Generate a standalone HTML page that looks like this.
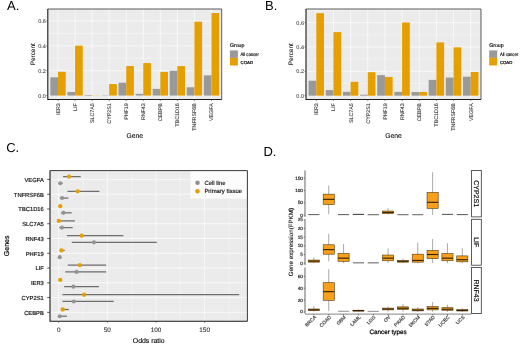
<!DOCTYPE html><html><head><meta charset="utf-8"><style>html,body{margin:0;padding:0;background:#fff;overflow:hidden}svg{display:block;will-change:transform}</style></head><body>
<svg width="520" height="345" viewBox="0 0 520 345" font-family="'Liberation Sans', sans-serif" text-rendering="geometricPrecision">
<rect width="520" height="345" fill="#fff"/>
<rect x="47.8" y="9" width="173.9" height="90.5" fill="#EBEBEB"/>
<line x1="47.8" x2="221.7" y1="83.18" y2="83.18" stroke="#fff" stroke-width="0.35"/>
<line x1="47.8" x2="221.7" y1="58.34" y2="58.34" stroke="#fff" stroke-width="0.35"/>
<line x1="47.8" x2="221.7" y1="33.5" y2="33.5" stroke="#fff" stroke-width="0.35"/>
<line x1="47.8" x2="221.7" y1="95.6" y2="95.6" stroke="#fff" stroke-width="0.65"/>
<line x1="47.8" x2="221.7" y1="70.76" y2="70.76" stroke="#fff" stroke-width="0.65"/>
<line x1="47.8" x2="221.7" y1="45.92" y2="45.92" stroke="#fff" stroke-width="0.65"/>
<line x1="47.8" x2="221.7" y1="21.08" y2="21.08" stroke="#fff" stroke-width="0.65"/>
<line x1="58.03" x2="58.03" y1="9" y2="99.5" stroke="#fff" stroke-width="0.65"/>
<line x1="75.08" x2="75.08" y1="9" y2="99.5" stroke="#fff" stroke-width="0.65"/>
<line x1="92.13" x2="92.13" y1="9" y2="99.5" stroke="#fff" stroke-width="0.65"/>
<line x1="109.18" x2="109.18" y1="9" y2="99.5" stroke="#fff" stroke-width="0.65"/>
<line x1="126.23" x2="126.23" y1="9" y2="99.5" stroke="#fff" stroke-width="0.65"/>
<line x1="143.27" x2="143.27" y1="9" y2="99.5" stroke="#fff" stroke-width="0.65"/>
<line x1="160.32" x2="160.32" y1="9" y2="99.5" stroke="#fff" stroke-width="0.65"/>
<line x1="177.37" x2="177.37" y1="9" y2="99.5" stroke="#fff" stroke-width="0.65"/>
<line x1="194.42" x2="194.42" y1="9" y2="99.5" stroke="#fff" stroke-width="0.65"/>
<line x1="211.47" x2="211.47" y1="9" y2="99.5" stroke="#fff" stroke-width="0.65"/>
<rect x="50.36" y="77.34" width="7.67" height="18.26" fill="#999999"/>
<rect x="58.03" y="71.75" width="7.67" height="23.85" fill="#E69F00"/>
<rect x="67.41" y="92" width="7.67" height="3.6" fill="#999999"/>
<rect x="75.08" y="45.67" width="7.67" height="49.93" fill="#E69F00"/>
<rect x="84.46" y="94.98" width="7.67" height="0.62" fill="#999999"/>
<rect x="92.13" y="95.35" width="7.67" height="0.25" fill="#E69F00"/>
<rect x="101.5" y="95.23" width="7.67" height="0.37" fill="#999999"/>
<rect x="109.18" y="84.05" width="7.67" height="11.55" fill="#E69F00"/>
<rect x="118.55" y="82.68" width="7.67" height="12.92" fill="#999999"/>
<rect x="126.23" y="66.04" width="7.67" height="29.56" fill="#E69F00"/>
<rect x="135.6" y="93.86" width="7.67" height="1.74" fill="#999999"/>
<rect x="143.27" y="63.06" width="7.67" height="32.54" fill="#E69F00"/>
<rect x="152.65" y="88.89" width="7.67" height="6.71" fill="#999999"/>
<rect x="160.32" y="71.88" width="7.67" height="23.72" fill="#E69F00"/>
<rect x="169.7" y="70.76" width="7.67" height="24.84" fill="#999999"/>
<rect x="177.37" y="66.04" width="7.67" height="29.56" fill="#E69F00"/>
<rect x="186.75" y="87.28" width="7.67" height="8.32" fill="#999999"/>
<rect x="194.42" y="21.7" width="7.67" height="73.9" fill="#E69F00"/>
<rect x="203.8" y="75.36" width="7.67" height="20.24" fill="#999999"/>
<rect x="211.47" y="13.01" width="7.67" height="82.59" fill="#E69F00"/>
<path d="M47.8 9H221.7V99.5" fill="none" stroke="#5a5a5a" stroke-width="1"/>
<path d="M47.8 9V99.5H221.7" fill="none" stroke="#1a1a1a" stroke-width="1.1"/>
<line x1="46.4" x2="47.8" y1="95.6" y2="95.6" stroke="#333" stroke-width="0.6"/>
<text x="45.8" y="97.5" font-size="5.5" fill="#4D4D4D" text-anchor="end" stroke="#4D4D4D" stroke-width="0.1">0.0</text>
<line x1="46.4" x2="47.8" y1="70.76" y2="70.76" stroke="#333" stroke-width="0.6"/>
<text x="45.8" y="72.66" font-size="5.5" fill="#4D4D4D" text-anchor="end" stroke="#4D4D4D" stroke-width="0.1">0.2</text>
<line x1="46.4" x2="47.8" y1="45.92" y2="45.92" stroke="#333" stroke-width="0.6"/>
<text x="45.8" y="47.82" font-size="5.5" fill="#4D4D4D" text-anchor="end" stroke="#4D4D4D" stroke-width="0.1">0.4</text>
<line x1="46.4" x2="47.8" y1="21.08" y2="21.08" stroke="#333" stroke-width="0.6"/>
<text x="45.8" y="22.98" font-size="5.5" fill="#4D4D4D" text-anchor="end" stroke="#4D4D4D" stroke-width="0.1">0.6</text>
<line x1="58.03" x2="58.03" y1="99.5" y2="100.9" stroke="#333" stroke-width="0.6"/>
<text transform="translate(59.93,103.3) rotate(-90)" font-size="5.3" fill="#444" text-anchor="end" stroke="#444" stroke-width="0.13">IER3</text>
<line x1="75.08" x2="75.08" y1="99.5" y2="100.9" stroke="#333" stroke-width="0.6"/>
<text transform="translate(76.98,103.3) rotate(-90)" font-size="5.3" fill="#444" text-anchor="end" stroke="#444" stroke-width="0.13">LIF</text>
<line x1="92.13" x2="92.13" y1="99.5" y2="100.9" stroke="#333" stroke-width="0.6"/>
<text transform="translate(94.03,103.3) rotate(-90)" font-size="5.3" fill="#444" text-anchor="end" stroke="#444" stroke-width="0.13">SLC7A5</text>
<line x1="109.18" x2="109.18" y1="99.5" y2="100.9" stroke="#333" stroke-width="0.6"/>
<text transform="translate(111.08,103.3) rotate(-90)" font-size="5.3" fill="#444" text-anchor="end" stroke="#444" stroke-width="0.13">CYP2S1</text>
<line x1="126.23" x2="126.23" y1="99.5" y2="100.9" stroke="#333" stroke-width="0.6"/>
<text transform="translate(128.13,103.3) rotate(-90)" font-size="5.3" fill="#444" text-anchor="end" stroke="#444" stroke-width="0.13">PHF19</text>
<line x1="143.27" x2="143.27" y1="99.5" y2="100.9" stroke="#333" stroke-width="0.6"/>
<text transform="translate(145.17,103.3) rotate(-90)" font-size="5.3" fill="#444" text-anchor="end" stroke="#444" stroke-width="0.13">RNF43</text>
<line x1="160.32" x2="160.32" y1="99.5" y2="100.9" stroke="#333" stroke-width="0.6"/>
<text transform="translate(162.22,103.3) rotate(-90)" font-size="5.3" fill="#444" text-anchor="end" stroke="#444" stroke-width="0.13">CEBPB</text>
<line x1="177.37" x2="177.37" y1="99.5" y2="100.9" stroke="#333" stroke-width="0.6"/>
<text transform="translate(179.27,103.3) rotate(-90)" font-size="5.3" fill="#444" text-anchor="end" stroke="#444" stroke-width="0.13">TBC1D16</text>
<line x1="194.42" x2="194.42" y1="99.5" y2="100.9" stroke="#333" stroke-width="0.6"/>
<text transform="translate(196.32,103.3) rotate(-90)" font-size="5.3" fill="#444" text-anchor="end" stroke="#444" stroke-width="0.13">TNFRSF6B</text>
<line x1="211.47" x2="211.47" y1="99.5" y2="100.9" stroke="#333" stroke-width="0.6"/>
<text transform="translate(213.37,103.3) rotate(-90)" font-size="5.3" fill="#444" text-anchor="end" stroke="#444" stroke-width="0.13">VEGFA</text>
<text x="134.75" y="138.4" font-size="6.8" fill="#000" text-anchor="middle" stroke="#000" stroke-width="0.08">Gene</text>
<text transform="translate(34.8,54.25) rotate(-90)" font-size="6.4" fill="#000" text-anchor="middle" stroke="#000" stroke-width="0.08">Percent</text>
<text x="229.9" y="47.1" font-size="5.2" fill="#000" stroke="#000" stroke-width="0.15">Group</text>
<rect x="229.9" y="50.4" width="8" height="7.5" fill="#999999"/>
<rect x="229.9" y="57.9" width="8" height="7.6" fill="#E69F00"/>
<text x="240.6" y="55.8" font-size="4.8" fill="#000" textLength="18.2" lengthAdjust="spacingAndGlyphs" stroke="#000" stroke-width="0.16">All cancer</text>
<text x="240.6" y="63.5" font-size="4.3" fill="#000" stroke="#000" stroke-width="0.2">COAD</text>
<text x="7" y="9.9" font-size="13" fill="#000">A.</text>
<rect x="306" y="9" width="175" height="90.5" fill="#EBEBEB"/>
<line x1="306" x2="481" y1="83.52" y2="83.52" stroke="#fff" stroke-width="0.35"/>
<line x1="306" x2="481" y1="59.16" y2="59.16" stroke="#fff" stroke-width="0.35"/>
<line x1="306" x2="481" y1="34.8" y2="34.8" stroke="#fff" stroke-width="0.35"/>
<line x1="306" x2="481" y1="10.44" y2="10.44" stroke="#fff" stroke-width="0.35"/>
<line x1="306" x2="481" y1="95.7" y2="95.7" stroke="#fff" stroke-width="0.65"/>
<line x1="306" x2="481" y1="71.34" y2="71.34" stroke="#fff" stroke-width="0.65"/>
<line x1="306" x2="481" y1="46.98" y2="46.98" stroke="#fff" stroke-width="0.65"/>
<line x1="306" x2="481" y1="22.62" y2="22.62" stroke="#fff" stroke-width="0.65"/>
<line x1="316.29" x2="316.29" y1="9" y2="99.5" stroke="#fff" stroke-width="0.65"/>
<line x1="333.45" x2="333.45" y1="9" y2="99.5" stroke="#fff" stroke-width="0.65"/>
<line x1="350.61" x2="350.61" y1="9" y2="99.5" stroke="#fff" stroke-width="0.65"/>
<line x1="367.76" x2="367.76" y1="9" y2="99.5" stroke="#fff" stroke-width="0.65"/>
<line x1="384.92" x2="384.92" y1="9" y2="99.5" stroke="#fff" stroke-width="0.65"/>
<line x1="402.08" x2="402.08" y1="9" y2="99.5" stroke="#fff" stroke-width="0.65"/>
<line x1="419.24" x2="419.24" y1="9" y2="99.5" stroke="#fff" stroke-width="0.65"/>
<line x1="436.39" x2="436.39" y1="9" y2="99.5" stroke="#fff" stroke-width="0.65"/>
<line x1="453.55" x2="453.55" y1="9" y2="99.5" stroke="#fff" stroke-width="0.65"/>
<line x1="470.71" x2="470.71" y1="9" y2="99.5" stroke="#fff" stroke-width="0.65"/>
<rect x="308.57" y="80.72" width="7.72" height="14.98" fill="#999999"/>
<rect x="316.29" y="13.12" width="7.72" height="82.58" fill="#E69F00"/>
<rect x="325.73" y="90.1" width="7.72" height="5.6" fill="#999999"/>
<rect x="333.45" y="32.12" width="7.72" height="63.58" fill="#E69F00"/>
<rect x="342.89" y="91.8" width="7.72" height="3.9" fill="#999999"/>
<rect x="350.61" y="81.81" width="7.72" height="13.89" fill="#E69F00"/>
<rect x="360.04" y="94.73" width="7.72" height="0.97" fill="#999999"/>
<rect x="367.76" y="72.19" width="7.72" height="23.51" fill="#E69F00"/>
<rect x="377.2" y="75.12" width="7.72" height="20.58" fill="#999999"/>
<rect x="384.92" y="76.94" width="7.72" height="18.76" fill="#E69F00"/>
<rect x="394.36" y="91.92" width="7.72" height="3.78" fill="#999999"/>
<rect x="402.08" y="22.5" width="7.72" height="73.2" fill="#E69F00"/>
<rect x="411.51" y="92.05" width="7.72" height="3.65" fill="#999999"/>
<rect x="419.24" y="91.92" width="7.72" height="3.78" fill="#E69F00"/>
<rect x="428.67" y="79.87" width="7.72" height="15.83" fill="#999999"/>
<rect x="436.39" y="42.35" width="7.72" height="53.35" fill="#E69F00"/>
<rect x="445.83" y="77.55" width="7.72" height="18.15" fill="#999999"/>
<rect x="453.55" y="47.35" width="7.72" height="48.35" fill="#E69F00"/>
<rect x="462.99" y="76.7" width="7.72" height="19" fill="#999999"/>
<rect x="470.71" y="71.95" width="7.72" height="23.75" fill="#E69F00"/>
<path d="M306 9H481V99.5" fill="none" stroke="#5a5a5a" stroke-width="1"/>
<path d="M306 9V99.5H481" fill="none" stroke="#1a1a1a" stroke-width="1.1"/>
<line x1="304.6" x2="306" y1="95.7" y2="95.7" stroke="#333" stroke-width="0.6"/>
<text x="304" y="97.6" font-size="5.5" fill="#4D4D4D" text-anchor="end" stroke="#4D4D4D" stroke-width="0.1">0.0</text>
<line x1="304.6" x2="306" y1="71.34" y2="71.34" stroke="#333" stroke-width="0.6"/>
<text x="304" y="73.24" font-size="5.5" fill="#4D4D4D" text-anchor="end" stroke="#4D4D4D" stroke-width="0.1">0.2</text>
<line x1="304.6" x2="306" y1="46.98" y2="46.98" stroke="#333" stroke-width="0.6"/>
<text x="304" y="48.88" font-size="5.5" fill="#4D4D4D" text-anchor="end" stroke="#4D4D4D" stroke-width="0.1">0.4</text>
<line x1="304.6" x2="306" y1="22.62" y2="22.62" stroke="#333" stroke-width="0.6"/>
<text x="304" y="24.52" font-size="5.5" fill="#4D4D4D" text-anchor="end" stroke="#4D4D4D" stroke-width="0.1">0.6</text>
<line x1="316.29" x2="316.29" y1="99.5" y2="100.9" stroke="#333" stroke-width="0.6"/>
<text transform="translate(318.19,103.3) rotate(-90)" font-size="5.3" fill="#444" text-anchor="end" stroke="#444" stroke-width="0.13">IER3</text>
<line x1="333.45" x2="333.45" y1="99.5" y2="100.9" stroke="#333" stroke-width="0.6"/>
<text transform="translate(335.35,103.3) rotate(-90)" font-size="5.3" fill="#444" text-anchor="end" stroke="#444" stroke-width="0.13">LIF</text>
<line x1="350.61" x2="350.61" y1="99.5" y2="100.9" stroke="#333" stroke-width="0.6"/>
<text transform="translate(352.51,103.3) rotate(-90)" font-size="5.3" fill="#444" text-anchor="end" stroke="#444" stroke-width="0.13">SLC7A5</text>
<line x1="367.76" x2="367.76" y1="99.5" y2="100.9" stroke="#333" stroke-width="0.6"/>
<text transform="translate(369.66,103.3) rotate(-90)" font-size="5.3" fill="#444" text-anchor="end" stroke="#444" stroke-width="0.13">CYP2S1</text>
<line x1="384.92" x2="384.92" y1="99.5" y2="100.9" stroke="#333" stroke-width="0.6"/>
<text transform="translate(386.82,103.3) rotate(-90)" font-size="5.3" fill="#444" text-anchor="end" stroke="#444" stroke-width="0.13">PHF19</text>
<line x1="402.08" x2="402.08" y1="99.5" y2="100.9" stroke="#333" stroke-width="0.6"/>
<text transform="translate(403.98,103.3) rotate(-90)" font-size="5.3" fill="#444" text-anchor="end" stroke="#444" stroke-width="0.13">RNF43</text>
<line x1="419.24" x2="419.24" y1="99.5" y2="100.9" stroke="#333" stroke-width="0.6"/>
<text transform="translate(421.14,103.3) rotate(-90)" font-size="5.3" fill="#444" text-anchor="end" stroke="#444" stroke-width="0.13">CEBPB</text>
<line x1="436.39" x2="436.39" y1="99.5" y2="100.9" stroke="#333" stroke-width="0.6"/>
<text transform="translate(438.29,103.3) rotate(-90)" font-size="5.3" fill="#444" text-anchor="end" stroke="#444" stroke-width="0.13">TBC1D16</text>
<line x1="453.55" x2="453.55" y1="99.5" y2="100.9" stroke="#333" stroke-width="0.6"/>
<text transform="translate(455.45,103.3) rotate(-90)" font-size="5.3" fill="#444" text-anchor="end" stroke="#444" stroke-width="0.13">TNFRSF6B</text>
<line x1="470.71" x2="470.71" y1="99.5" y2="100.9" stroke="#333" stroke-width="0.6"/>
<text transform="translate(472.61,103.3) rotate(-90)" font-size="5.3" fill="#444" text-anchor="end" stroke="#444" stroke-width="0.13">VEGFA</text>
<text x="393.5" y="138.4" font-size="6.8" fill="#000" text-anchor="middle" stroke="#000" stroke-width="0.08">Gene</text>
<text transform="translate(293,54.25) rotate(-90)" font-size="6.4" fill="#000" text-anchor="middle" stroke="#000" stroke-width="0.08">Percent</text>
<text x="489.2" y="47.1" font-size="5.2" fill="#000" stroke="#000" stroke-width="0.15">Group</text>
<rect x="489.2" y="50.4" width="8" height="7.5" fill="#999999"/>
<rect x="489.2" y="57.9" width="8" height="7.6" fill="#E69F00"/>
<text x="499.9" y="55.8" font-size="4.8" fill="#000" textLength="18.2" lengthAdjust="spacingAndGlyphs" stroke="#000" stroke-width="0.16">All cancer</text>
<text x="499.9" y="63.5" font-size="4.3" fill="#000" stroke="#000" stroke-width="0.2">COAD</text>
<text x="265" y="9.9" font-size="13" fill="#000">B.</text>
<rect x="50" y="170.6" width="197.4" height="150.6" fill="#EBEBEB"/>
<line x1="83.03" x2="83.03" y1="170.6" y2="321.2" stroke="#fff" stroke-width="0.35"/>
<line x1="131.68" x2="131.68" y1="170.6" y2="321.2" stroke="#fff" stroke-width="0.35"/>
<line x1="180.32" x2="180.32" y1="170.6" y2="321.2" stroke="#fff" stroke-width="0.35"/>
<line x1="228.98" x2="228.98" y1="170.6" y2="321.2" stroke="#fff" stroke-width="0.35"/>
<line x1="58.7" x2="58.7" y1="170.6" y2="321.2" stroke="#fff" stroke-width="0.65"/>
<line x1="107.35" x2="107.35" y1="170.6" y2="321.2" stroke="#fff" stroke-width="0.65"/>
<line x1="156" x2="156" y1="170.6" y2="321.2" stroke="#fff" stroke-width="0.65"/>
<line x1="204.65" x2="204.65" y1="170.6" y2="321.2" stroke="#fff" stroke-width="0.65"/>
<line x1="50" x2="247.4" y1="179.46" y2="179.46" stroke="#fff" stroke-width="0.65"/>
<line x1="50" x2="247.4" y1="194.22" y2="194.22" stroke="#fff" stroke-width="0.65"/>
<line x1="50" x2="247.4" y1="208.99" y2="208.99" stroke="#fff" stroke-width="0.65"/>
<line x1="50" x2="247.4" y1="223.75" y2="223.75" stroke="#fff" stroke-width="0.65"/>
<line x1="50" x2="247.4" y1="238.52" y2="238.52" stroke="#fff" stroke-width="0.65"/>
<line x1="50" x2="247.4" y1="253.28" y2="253.28" stroke="#fff" stroke-width="0.65"/>
<line x1="50" x2="247.4" y1="268.05" y2="268.05" stroke="#fff" stroke-width="0.65"/>
<line x1="50" x2="247.4" y1="282.81" y2="282.81" stroke="#fff" stroke-width="0.65"/>
<line x1="50" x2="247.4" y1="297.58" y2="297.58" stroke="#fff" stroke-width="0.65"/>
<line x1="50" x2="247.4" y1="312.34" y2="312.34" stroke="#fff" stroke-width="0.65"/>
<line x1="63.08" x2="80.69" y1="176.61" y2="176.61" stroke="#6e6e6e" stroke-width="1.25"/>
<line x1="58.7" x2="62.59" y1="183.31" y2="183.31" stroke="#6e6e6e" stroke-width="1.25"/>
<circle cx="69.01" cy="176.61" r="2.15" fill="#E69F00"/>
<circle cx="60.26" cy="183.31" r="2.05" fill="#939393"/>
<line x1="47.2" x2="50" y1="179.46" y2="179.46" stroke="#333" stroke-width="0.8"/>
<text x="43.8" y="181.86" font-size="5.8" fill="#1a1a1a" text-anchor="end" stroke="#1a1a1a" stroke-width="0.2">VEGFA</text>
<line x1="67.46" x2="99.37" y1="191.37" y2="191.37" stroke="#6e6e6e" stroke-width="1.25"/>
<line x1="59.77" x2="68.43" y1="198.07" y2="198.07" stroke="#6e6e6e" stroke-width="1.25"/>
<circle cx="77.67" cy="191.37" r="2.15" fill="#E69F00"/>
<circle cx="62.11" cy="198.07" r="2.05" fill="#939393"/>
<line x1="47.2" x2="50" y1="194.22" y2="194.22" stroke="#333" stroke-width="0.8"/>
<text x="43.8" y="196.62" font-size="5.8" fill="#1a1a1a" text-anchor="end" stroke="#1a1a1a" stroke-width="0.2">TNFRSF6B</text>
<line x1="59.67" x2="60.65" y1="206.14" y2="206.14" stroke="#6e6e6e" stroke-width="1.25"/>
<line x1="60.94" x2="71.74" y1="212.84" y2="212.84" stroke="#6e6e6e" stroke-width="1.25"/>
<circle cx="60.26" cy="206.14" r="2.15" fill="#E69F00"/>
<circle cx="63.47" cy="212.84" r="2.05" fill="#939393"/>
<line x1="47.2" x2="50" y1="208.99" y2="208.99" stroke="#333" stroke-width="0.8"/>
<text x="43.8" y="211.39" font-size="5.8" fill="#1a1a1a" text-anchor="end" stroke="#1a1a1a" stroke-width="0.2">TBC1D16</text>
<line x1="58.7" x2="74.95" y1="220.9" y2="220.9" stroke="#6e6e6e" stroke-width="1.25"/>
<line x1="59.19" x2="72.71" y1="227.6" y2="227.6" stroke="#6e6e6e" stroke-width="1.25"/>
<circle cx="58.8" cy="220.9" r="2.15" fill="#E69F00"/>
<circle cx="62.01" cy="227.6" r="2.05" fill="#939393"/>
<line x1="47.2" x2="50" y1="223.75" y2="223.75" stroke="#333" stroke-width="0.8"/>
<text x="43.8" y="226.15" font-size="5.8" fill="#1a1a1a" text-anchor="end" stroke="#1a1a1a" stroke-width="0.2">SLC7A5</text>
<line x1="66.97" x2="123.31" y1="235.67" y2="235.67" stroke="#6e6e6e" stroke-width="1.25"/>
<line x1="71.74" x2="156.78" y1="242.37" y2="242.37" stroke="#6e6e6e" stroke-width="1.25"/>
<circle cx="81.76" cy="235.67" r="2.15" fill="#E69F00"/>
<circle cx="93.92" cy="242.37" r="2.05" fill="#939393"/>
<line x1="47.2" x2="50" y1="238.52" y2="238.52" stroke="#333" stroke-width="0.8"/>
<text x="43.8" y="240.92" font-size="5.8" fill="#1a1a1a" text-anchor="end" stroke="#1a1a1a" stroke-width="0.2">RNF43</text>
<line x1="59.67" x2="64.73" y1="250.43" y2="250.43" stroke="#6e6e6e" stroke-width="1.25"/>
<line x1="59.19" x2="60.16" y1="257.13" y2="257.13" stroke="#6e6e6e" stroke-width="1.25"/>
<circle cx="61.42" cy="250.43" r="2.15" fill="#E69F00"/>
<circle cx="59.77" cy="257.13" r="2.05" fill="#939393"/>
<line x1="47.2" x2="50" y1="253.28" y2="253.28" stroke="#333" stroke-width="0.8"/>
<text x="43.8" y="255.68" font-size="5.8" fill="#1a1a1a" text-anchor="end" stroke="#1a1a1a" stroke-width="0.2">PHF19</text>
<line x1="67.75" x2="106.18" y1="265.2" y2="265.2" stroke="#6e6e6e" stroke-width="1.25"/>
<line x1="65.22" x2="106.18" y1="271.9" y2="271.9" stroke="#6e6e6e" stroke-width="1.25"/>
<circle cx="79.91" cy="265.2" r="2.15" fill="#E69F00"/>
<circle cx="76.6" cy="271.9" r="2.05" fill="#939393"/>
<line x1="47.2" x2="50" y1="268.05" y2="268.05" stroke="#333" stroke-width="0.8"/>
<text x="43.8" y="270.45" font-size="5.8" fill="#1a1a1a" text-anchor="end" stroke="#1a1a1a" stroke-width="0.2">LIF</text>
<line x1="59.67" x2="60.65" y1="279.96" y2="279.96" stroke="#6e6e6e" stroke-width="1.25"/>
<line x1="64.15" x2="98.98" y1="286.66" y2="286.66" stroke="#6e6e6e" stroke-width="1.25"/>
<circle cx="60.26" cy="279.96" r="2.15" fill="#E69F00"/>
<circle cx="73.39" cy="286.66" r="2.05" fill="#939393"/>
<line x1="47.2" x2="50" y1="282.81" y2="282.81" stroke="#333" stroke-width="0.8"/>
<text x="43.8" y="285.21" font-size="5.8" fill="#1a1a1a" text-anchor="end" stroke="#1a1a1a" stroke-width="0.2">IER3</text>
<line x1="62.49" x2="239.19" y1="294.73" y2="294.73" stroke="#6e6e6e" stroke-width="1.25"/>
<line x1="62.49" x2="113.67" y1="301.43" y2="301.43" stroke="#6e6e6e" stroke-width="1.25"/>
<circle cx="84.19" cy="294.73" r="2.15" fill="#E69F00"/>
<circle cx="73.78" cy="301.43" r="2.05" fill="#939393"/>
<line x1="47.2" x2="50" y1="297.58" y2="297.58" stroke="#333" stroke-width="0.8"/>
<text x="43.8" y="299.98" font-size="5.8" fill="#1a1a1a" text-anchor="end" stroke="#1a1a1a" stroke-width="0.2">CYP2S1</text>
<line x1="61.04" x2="68.82" y1="309.49" y2="309.49" stroke="#6e6e6e" stroke-width="1.25"/>
<line x1="59.19" x2="66.87" y1="316.19" y2="316.19" stroke="#6e6e6e" stroke-width="1.25"/>
<circle cx="62.69" cy="309.49" r="2.15" fill="#E69F00"/>
<circle cx="59.77" cy="316.19" r="2.05" fill="#939393"/>
<line x1="47.2" x2="50" y1="312.34" y2="312.34" stroke="#333" stroke-width="0.8"/>
<text x="43.8" y="314.74" font-size="5.8" fill="#1a1a1a" text-anchor="end" stroke="#1a1a1a" stroke-width="0.2">CEBPB</text>
<rect x="190.5" y="171.2" width="56.3" height="27.4" fill="#fff" fill-opacity="0.85"/>
<circle cx="197.5" cy="182.8" r="2.25" fill="#8f8f8f"/>
<circle cx="197.5" cy="191.2" r="2.25" fill="#E69F00"/>
<text x="204.4" y="184.8" font-size="5.95" fill="#000" stroke="#000" stroke-width="0.12">Cell line</text>
<text x="204.4" y="193.4" font-size="5.95" fill="#000" stroke="#000" stroke-width="0.12">Primary tissue</text>
<path d="M50 170.6H247.4V321.2" fill="none" stroke="#3a3a3a" stroke-width="1"/>
<path d="M50 170.6V321.2H247.4" fill="none" stroke="#1a1a1a" stroke-width="1.1"/>
<line x1="58.7" x2="58.7" y1="321.2" y2="322.8" stroke="#333" stroke-width="0.6"/>
<text x="58.7" y="331.9" font-size="6.4" fill="#3a3a3a" text-anchor="middle" stroke="#3a3a3a" stroke-width="0.12">0</text>
<line x1="107.35" x2="107.35" y1="321.2" y2="322.8" stroke="#333" stroke-width="0.6"/>
<text x="107.35" y="331.9" font-size="6.4" fill="#3a3a3a" text-anchor="middle" stroke="#3a3a3a" stroke-width="0.12">50</text>
<line x1="156" x2="156" y1="321.2" y2="322.8" stroke="#333" stroke-width="0.6"/>
<text x="156" y="331.9" font-size="6.4" fill="#3a3a3a" text-anchor="middle" stroke="#3a3a3a" stroke-width="0.12">100</text>
<line x1="204.65" x2="204.65" y1="321.2" y2="322.8" stroke="#333" stroke-width="0.6"/>
<text x="204.65" y="331.9" font-size="6.4" fill="#3a3a3a" text-anchor="middle" stroke="#3a3a3a" stroke-width="0.12">150</text>
<text x="148.7" y="342.8" font-size="6.9" fill="#000" text-anchor="middle" stroke="#000" stroke-width="0.12">Odds ratio</text>
<text transform="translate(8.6,245.9) rotate(-90)" font-size="7" fill="#000" text-anchor="middle" stroke="#000" stroke-width="0.2">Genes</text>
<text x="6.2" y="152.3" font-size="13" fill="#000">C.</text>
<line x1="308.34" x2="319.47" y1="214.61" y2="214.61" stroke="#505050" stroke-width="0.95"/>
<line x1="328.74" x2="328.74" y1="185.56" y2="214.12" stroke="#7a7a7a" stroke-width="0.65"/>
<rect x="323.18" y="194.17" width="11.13" height="10.34" fill="#F9A01A" stroke="#563a0c" stroke-width="0.6"/>
<line x1="323.18" x2="334.31" y1="199.34" y2="199.34" stroke="#2e1e06" stroke-width="1.1"/>
<line x1="338.02" x2="349.15" y1="214.61" y2="214.61" stroke="#505050" stroke-width="0.95"/>
<line x1="352.86" x2="363.99" y1="214.36" y2="214.36" stroke="#2a2a2a" stroke-width="0.95"/>
<line x1="367.7" x2="378.83" y1="214.73" y2="214.73" stroke="#555" stroke-width="0.95"/>
<line x1="388.1" x2="388.1" y1="208.21" y2="214.36" stroke="#7a7a7a" stroke-width="0.65"/>
<rect x="382.54" y="211.04" width="11.13" height="2.59" fill="#F9A01A" stroke="#563a0c" stroke-width="0.6"/>
<line x1="382.54" x2="393.66" y1="212.39" y2="212.39" stroke="#2e1e06" stroke-width="1.1"/>
<line x1="397.37" x2="408.5" y1="214.73" y2="214.73" stroke="#555" stroke-width="0.95"/>
<line x1="412.21" x2="423.34" y1="214.73" y2="214.73" stroke="#555" stroke-width="0.95"/>
<line x1="432.62" x2="432.62" y1="172.26" y2="214.85" stroke="#7a7a7a" stroke-width="0.65"/>
<rect x="427.05" y="192.45" width="11.13" height="16" fill="#F9A01A" stroke="#563a0c" stroke-width="0.6"/>
<line x1="427.05" x2="438.18" y1="202.3" y2="202.3" stroke="#2e1e06" stroke-width="1.1"/>
<line x1="441.89" x2="453.02" y1="214.36" y2="214.36" stroke="#444" stroke-width="0.95"/>
<line x1="456.73" x2="467.86" y1="214.61" y2="214.61" stroke="#4a4a4a" stroke-width="0.95"/>
<line x1="305" x2="305" y1="170.4" y2="216.9" stroke="#555" stroke-width="0.9"/>
<line x1="303.7" x2="305" y1="215.1" y2="215.1" stroke="#333" stroke-width="0.55"/>
<text x="302.9" y="216.6" font-size="4.65" fill="#262626" text-anchor="end" stroke="#262626" stroke-width="0.18">0</text>
<line x1="303.7" x2="305" y1="202.79" y2="202.79" stroke="#333" stroke-width="0.55"/>
<text x="302.9" y="204.29" font-size="4.65" fill="#262626" text-anchor="end" stroke="#262626" stroke-width="0.18">50</text>
<line x1="303.7" x2="305" y1="190.48" y2="190.48" stroke="#333" stroke-width="0.55"/>
<text x="302.9" y="191.98" font-size="4.65" fill="#262626" text-anchor="end" stroke="#262626" stroke-width="0.18">100</text>
<line x1="303.7" x2="305" y1="178.17" y2="178.17" stroke="#333" stroke-width="0.55"/>
<text x="302.9" y="179.67" font-size="4.65" fill="#262626" text-anchor="end" stroke="#262626" stroke-width="0.18">150</text>
<rect x="471.6" y="170.4" width="9.7" height="46.5" fill="#fff" stroke="#333" stroke-width="0.8"/>
<text transform="translate(474.1,193.65) rotate(90)" font-size="7" fill="#1a1a1a" text-anchor="middle" stroke="#1a1a1a" stroke-width="0.22">CYP2S1</text>
<line x1="313.9" x2="313.9" y1="257.46" y2="262.85" stroke="#7a7a7a" stroke-width="0.65"/>
<rect x="308.34" y="260.07" width="11.13" height="2.09" fill="#F9A01A" stroke="#563a0c" stroke-width="0.6"/>
<line x1="308.34" x2="319.47" y1="261.11" y2="261.11" stroke="#2e1e06" stroke-width="1.1"/>
<line x1="328.74" x2="328.74" y1="233.83" y2="261.29" stroke="#7a7a7a" stroke-width="0.65"/>
<rect x="323.18" y="244.78" width="11.13" height="9.39" fill="#F9A01A" stroke="#563a0c" stroke-width="0.6"/>
<line x1="323.18" x2="334.31" y1="249.64" y2="249.64" stroke="#2e1e06" stroke-width="1.1"/>
<line x1="343.58" x2="343.58" y1="243.91" y2="263.2" stroke="#7a7a7a" stroke-width="0.65"/>
<rect x="338.02" y="253.47" width="11.13" height="7.82" fill="#F9A01A" stroke="#563a0c" stroke-width="0.6"/>
<line x1="338.02" x2="349.15" y1="258.16" y2="258.16" stroke="#2e1e06" stroke-width="1.1"/>
<line x1="352.86" x2="363.99" y1="262.85" y2="262.85" stroke="#555" stroke-width="0.95"/>
<line x1="367.7" x2="378.83" y1="262.85" y2="262.85" stroke="#555" stroke-width="0.95"/>
<line x1="388.1" x2="388.1" y1="248.25" y2="263.03" stroke="#7a7a7a" stroke-width="0.65"/>
<rect x="382.54" y="255.03" width="11.13" height="5.74" fill="#F9A01A" stroke="#563a0c" stroke-width="0.6"/>
<line x1="382.54" x2="393.66" y1="258.16" y2="258.16" stroke="#2e1e06" stroke-width="1.1"/>
<line x1="402.94" x2="402.94" y1="258.68" y2="262.85" stroke="#7a7a7a" stroke-width="0.65"/>
<rect x="397.37" y="260.42" width="11.13" height="1.74" fill="#F9A01A" stroke="#563a0c" stroke-width="0.6"/>
<line x1="397.37" x2="408.5" y1="261.29" y2="261.29" stroke="#2e1e06" stroke-width="1.1"/>
<line x1="417.78" x2="417.78" y1="242.69" y2="263.2" stroke="#7a7a7a" stroke-width="0.65"/>
<rect x="412.21" y="254.16" width="11.13" height="7.99" fill="#F9A01A" stroke="#563a0c" stroke-width="0.6"/>
<line x1="412.21" x2="423.34" y1="260.42" y2="260.42" stroke="#2e1e06" stroke-width="1.1"/>
<line x1="432.62" x2="432.62" y1="239.04" y2="263.03" stroke="#7a7a7a" stroke-width="0.65"/>
<rect x="427.05" y="250.34" width="11.13" height="8.34" fill="#F9A01A" stroke="#563a0c" stroke-width="0.6"/>
<line x1="427.05" x2="438.18" y1="254.51" y2="254.51" stroke="#2e1e06" stroke-width="1.1"/>
<line x1="447.46" x2="447.46" y1="243.21" y2="263.2" stroke="#7a7a7a" stroke-width="0.65"/>
<rect x="441.89" y="253.64" width="11.13" height="7.13" fill="#F9A01A" stroke="#563a0c" stroke-width="0.6"/>
<line x1="441.89" x2="453.02" y1="258.16" y2="258.16" stroke="#2e1e06" stroke-width="1.1"/>
<line x1="462.3" x2="462.3" y1="248.25" y2="263.2" stroke="#7a7a7a" stroke-width="0.65"/>
<rect x="456.73" y="255.9" width="11.13" height="5.91" fill="#F9A01A" stroke="#563a0c" stroke-width="0.6"/>
<line x1="456.73" x2="467.86" y1="259.72" y2="259.72" stroke="#2e1e06" stroke-width="1.1"/>
<line x1="305" x2="305" y1="219.3" y2="265.2" stroke="#555" stroke-width="0.9"/>
<line x1="303.7" x2="305" y1="263.2" y2="263.2" stroke="#333" stroke-width="0.55"/>
<text x="302.9" y="264.7" font-size="4.65" fill="#262626" text-anchor="end" stroke="#262626" stroke-width="0.18">0</text>
<line x1="303.7" x2="305" y1="254.51" y2="254.51" stroke="#333" stroke-width="0.55"/>
<text x="302.9" y="256.01" font-size="4.65" fill="#262626" text-anchor="end" stroke="#262626" stroke-width="0.18">5</text>
<line x1="303.7" x2="305" y1="245.82" y2="245.82" stroke="#333" stroke-width="0.55"/>
<text x="302.9" y="247.32" font-size="4.65" fill="#262626" text-anchor="end" stroke="#262626" stroke-width="0.18">10</text>
<line x1="303.7" x2="305" y1="237.13" y2="237.13" stroke="#333" stroke-width="0.55"/>
<text x="302.9" y="238.63" font-size="4.65" fill="#262626" text-anchor="end" stroke="#262626" stroke-width="0.18">15</text>
<line x1="303.7" x2="305" y1="228.44" y2="228.44" stroke="#333" stroke-width="0.55"/>
<text x="302.9" y="229.94" font-size="4.65" fill="#262626" text-anchor="end" stroke="#262626" stroke-width="0.18">20</text>
<line x1="303.7" x2="305" y1="219.75" y2="219.75" stroke="#333" stroke-width="0.55"/>
<text x="302.9" y="221.25" font-size="4.65" fill="#262626" text-anchor="end" stroke="#262626" stroke-width="0.18">25</text>
<rect x="471.6" y="219.3" width="9.7" height="45.9" fill="#fff" stroke="#333" stroke-width="0.8"/>
<text transform="translate(474.1,242.25) rotate(90)" font-size="7" fill="#1a1a1a" text-anchor="middle" stroke="#1a1a1a" stroke-width="0.22">LIF</text>
<line x1="313.9" x2="313.9" y1="306.1" y2="311.6" stroke="#7a7a7a" stroke-width="0.65"/>
<rect x="308.34" y="309" width="11.13" height="1.6" fill="#F9A01A" stroke="#563a0c" stroke-width="0.6"/>
<line x1="308.34" x2="319.47" y1="309.83" y2="309.83" stroke="#2e1e06" stroke-width="1.1"/>
<line x1="328.74" x2="328.74" y1="269.16" y2="311.07" stroke="#7a7a7a" stroke-width="0.65"/>
<rect x="323.18" y="282.71" width="11.13" height="17.58" fill="#F9A01A" stroke="#563a0c" stroke-width="0.6"/>
<line x1="323.18" x2="334.31" y1="291.65" y2="291.65" stroke="#2e1e06" stroke-width="1.1"/>
<line x1="338.02" x2="349.15" y1="311.25" y2="311.25" stroke="#888" stroke-width="0.95"/>
<line x1="358.42" x2="358.42" y1="309.53" y2="311.6" stroke="#7a7a7a" stroke-width="0.65"/>
<rect x="352.86" y="310.24" width="11.13" height="0.9" fill="#F9A01A" stroke="#563a0c" stroke-width="0.6"/>
<line x1="352.86" x2="363.99" y1="310.6" y2="310.6" stroke="#2e1e06" stroke-width="1.1"/>
<line x1="367.7" x2="378.83" y1="311.37" y2="311.37" stroke="#888" stroke-width="0.95"/>
<line x1="388.1" x2="388.1" y1="306.57" y2="311.6" stroke="#7a7a7a" stroke-width="0.65"/>
<rect x="382.54" y="308.11" width="11.13" height="1.78" fill="#F9A01A" stroke="#563a0c" stroke-width="0.6"/>
<line x1="382.54" x2="393.66" y1="309.06" y2="309.06" stroke="#2e1e06" stroke-width="1.1"/>
<line x1="402.94" x2="402.94" y1="303.97" y2="311.6" stroke="#7a7a7a" stroke-width="0.65"/>
<rect x="397.37" y="306.87" width="11.13" height="2.55" fill="#F9A01A" stroke="#563a0c" stroke-width="0.6"/>
<line x1="397.37" x2="408.5" y1="308.23" y2="308.23" stroke="#2e1e06" stroke-width="1.1"/>
<line x1="417.78" x2="417.78" y1="307.16" y2="311.9" stroke="#7a7a7a" stroke-width="0.65"/>
<rect x="412.21" y="309" width="11.13" height="1.89" fill="#F9A01A" stroke="#563a0c" stroke-width="0.6"/>
<line x1="412.21" x2="423.34" y1="310.12" y2="310.12" stroke="#2e1e06" stroke-width="1.1"/>
<line x1="432.62" x2="432.62" y1="302.07" y2="311.78" stroke="#7a7a7a" stroke-width="0.65"/>
<rect x="427.05" y="306.57" width="11.13" height="3.32" fill="#F9A01A" stroke="#563a0c" stroke-width="0.6"/>
<line x1="427.05" x2="438.18" y1="308.35" y2="308.35" stroke="#2e1e06" stroke-width="1.1"/>
<line x1="447.46" x2="447.46" y1="304.68" y2="311.9" stroke="#7a7a7a" stroke-width="0.65"/>
<rect x="441.89" y="307.7" width="11.13" height="2.6" fill="#F9A01A" stroke="#563a0c" stroke-width="0.6"/>
<line x1="441.89" x2="453.02" y1="309.18" y2="309.18" stroke="#2e1e06" stroke-width="1.1"/>
<line x1="462.3" x2="462.3" y1="308.35" y2="311.9" stroke="#7a7a7a" stroke-width="0.65"/>
<rect x="456.73" y="309.59" width="11.13" height="1.42" fill="#F9A01A" stroke="#563a0c" stroke-width="0.6"/>
<line x1="456.73" x2="467.86" y1="310.42" y2="310.42" stroke="#2e1e06" stroke-width="1.1"/>
<line x1="305" x2="305" y1="267.4" y2="313.6" stroke="#555" stroke-width="0.9"/>
<line x1="303.7" x2="305" y1="311.9" y2="311.9" stroke="#333" stroke-width="0.55"/>
<text x="302.9" y="313.4" font-size="4.65" fill="#262626" text-anchor="end" stroke="#262626" stroke-width="0.18">0</text>
<line x1="303.7" x2="305" y1="300.06" y2="300.06" stroke="#333" stroke-width="0.55"/>
<text x="302.9" y="301.56" font-size="4.65" fill="#262626" text-anchor="end" stroke="#262626" stroke-width="0.18">20</text>
<line x1="303.7" x2="305" y1="288.22" y2="288.22" stroke="#333" stroke-width="0.55"/>
<text x="302.9" y="289.72" font-size="4.65" fill="#262626" text-anchor="end" stroke="#262626" stroke-width="0.18">40</text>
<line x1="303.7" x2="305" y1="276.38" y2="276.38" stroke="#333" stroke-width="0.55"/>
<text x="302.9" y="277.88" font-size="4.65" fill="#262626" text-anchor="end" stroke="#262626" stroke-width="0.18">60</text>
<rect x="471.6" y="267.4" width="9.7" height="46.2" fill="#fff" stroke="#333" stroke-width="0.8"/>
<text transform="translate(474.1,290.5) rotate(90)" font-size="7" fill="#1a1a1a" text-anchor="middle" stroke="#1a1a1a" stroke-width="0.22">RNF43</text>
<line x1="305" x2="471.2" y1="314.1" y2="314.1" stroke="#666" stroke-width="0.8"/>
<line x1="313.9" x2="313.9" y1="314" y2="315.5" stroke="#333" stroke-width="0.55"/>
<text transform="translate(316.5,317.6) rotate(-45)" font-size="4.8" fill="#333" text-anchor="end" stroke="#333" stroke-width="0.15">BRCA</text>
<line x1="328.74" x2="328.74" y1="314" y2="315.5" stroke="#333" stroke-width="0.55"/>
<text transform="translate(331.34,317.6) rotate(-45)" font-size="4.8" fill="#333" text-anchor="end" stroke="#333" stroke-width="0.15">COAD</text>
<line x1="343.58" x2="343.58" y1="314" y2="315.5" stroke="#333" stroke-width="0.55"/>
<text transform="translate(346.18,317.6) rotate(-45)" font-size="4.8" fill="#333" text-anchor="end" stroke="#333" stroke-width="0.15">GBM</text>
<line x1="358.42" x2="358.42" y1="314" y2="315.5" stroke="#333" stroke-width="0.55"/>
<text transform="translate(361.02,317.6) rotate(-45)" font-size="4.8" fill="#333" text-anchor="end" stroke="#333" stroke-width="0.15">LAML</text>
<line x1="373.26" x2="373.26" y1="314" y2="315.5" stroke="#333" stroke-width="0.55"/>
<text transform="translate(375.86,317.6) rotate(-45)" font-size="4.8" fill="#333" text-anchor="end" stroke="#333" stroke-width="0.15">LGG</text>
<line x1="388.1" x2="388.1" y1="314" y2="315.5" stroke="#333" stroke-width="0.55"/>
<text transform="translate(390.7,317.6) rotate(-45)" font-size="4.8" fill="#333" text-anchor="end" stroke="#333" stroke-width="0.15">OV</text>
<line x1="402.94" x2="402.94" y1="314" y2="315.5" stroke="#333" stroke-width="0.55"/>
<text transform="translate(405.54,317.6) rotate(-45)" font-size="4.8" fill="#333" text-anchor="end" stroke="#333" stroke-width="0.15">PRAD</text>
<line x1="417.78" x2="417.78" y1="314" y2="315.5" stroke="#333" stroke-width="0.55"/>
<text transform="translate(420.38,317.6) rotate(-45)" font-size="4.8" fill="#333" text-anchor="end" stroke="#333" stroke-width="0.15">SKCM</text>
<line x1="432.62" x2="432.62" y1="314" y2="315.5" stroke="#333" stroke-width="0.55"/>
<text transform="translate(435.22,317.6) rotate(-45)" font-size="4.8" fill="#333" text-anchor="end" stroke="#333" stroke-width="0.15">STAD</text>
<line x1="447.46" x2="447.46" y1="314" y2="315.5" stroke="#333" stroke-width="0.55"/>
<text transform="translate(450.06,317.6) rotate(-45)" font-size="4.8" fill="#333" text-anchor="end" stroke="#333" stroke-width="0.15">UCEC</text>
<line x1="462.3" x2="462.3" y1="314" y2="315.5" stroke="#333" stroke-width="0.55"/>
<text transform="translate(464.9,317.6) rotate(-45)" font-size="4.8" fill="#333" text-anchor="end" stroke="#333" stroke-width="0.15">UCS</text>
<text x="388.1" y="334.1" font-size="6.3" fill="#000" text-anchor="middle" stroke="#000" stroke-width="0.22">Cancer types</text>
<text transform="translate(292.6,242.1) rotate(-90)" font-size="6.2" fill="#000" text-anchor="middle" stroke="#000" stroke-width="0.08">Gene expression(FPKM)</text>
<text x="263.4" y="156.1" font-size="13" fill="#000">D.</text>
</svg></body></html>
